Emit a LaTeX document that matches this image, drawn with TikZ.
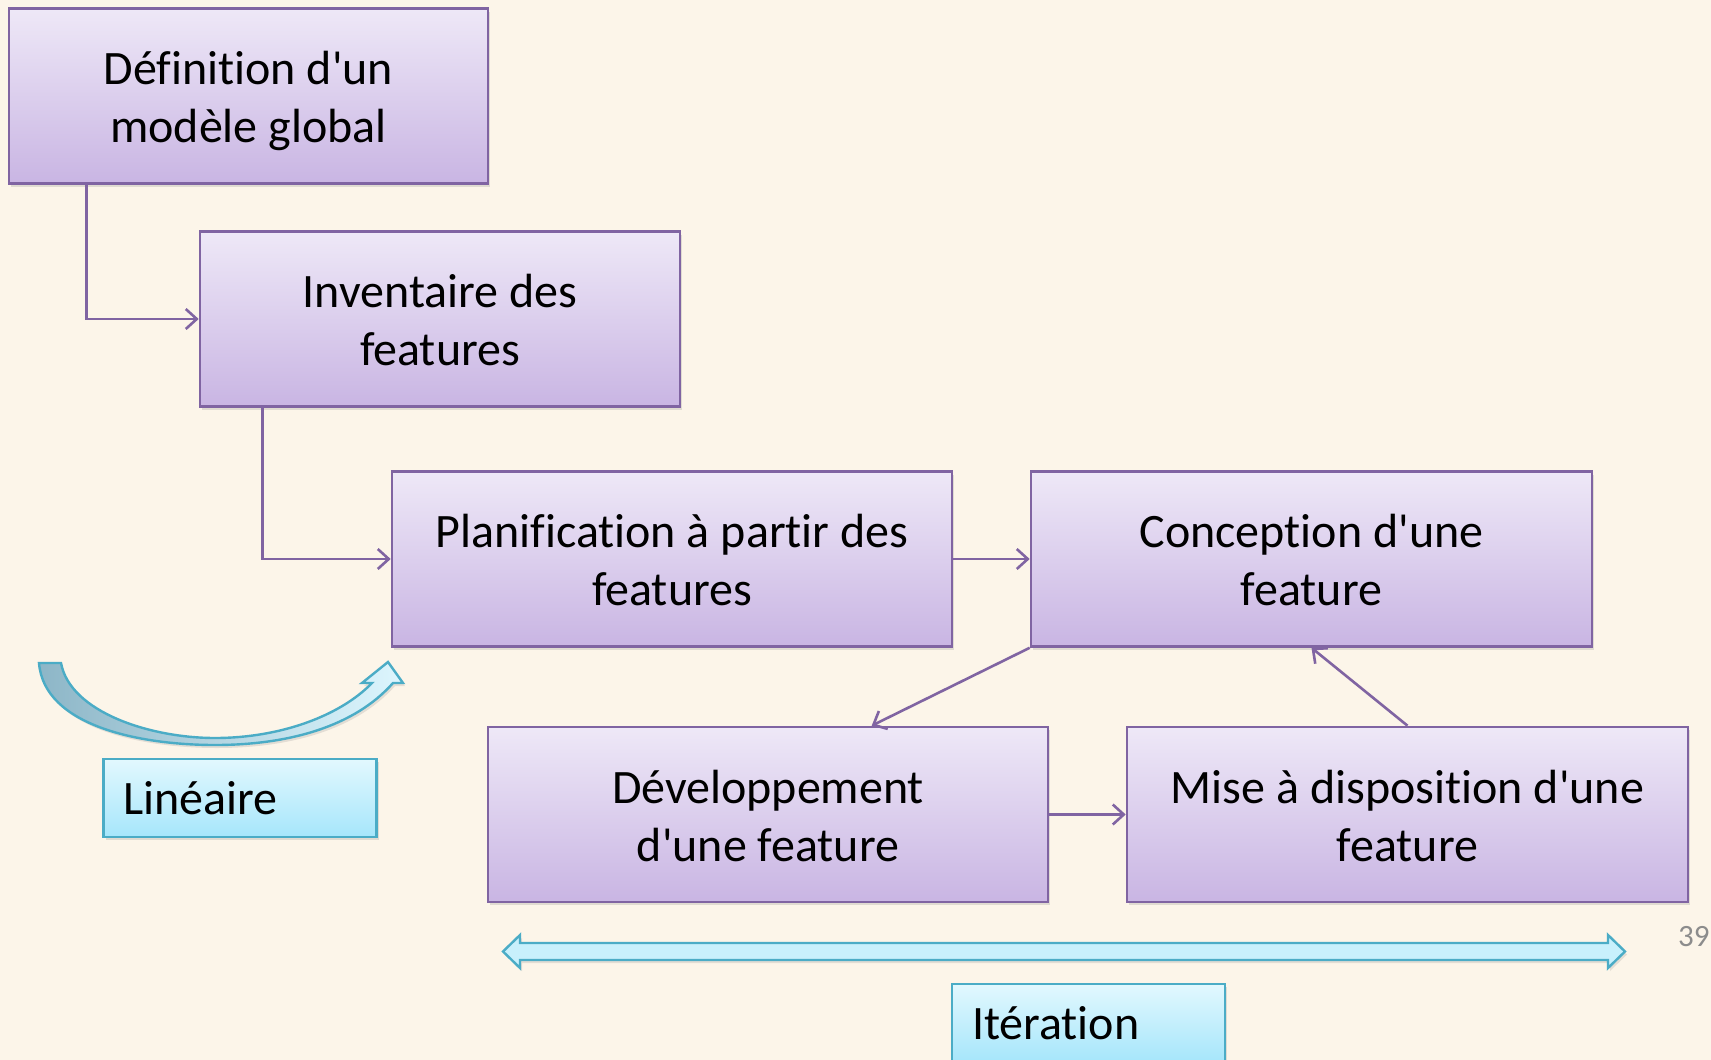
\documentclass[tikz,border=0pt]{standalone}
\usepackage{fontspec}
\setmainfont{Carlito}[Ligatures={TeXOff,CommonOff}]
\usetikzlibrary{arrows.meta,shadows}

\definecolor{paper}{HTML}{FCF5E9}
\definecolor{accpurple}{HTML}{8064A2}
\definecolor{stagetop}{HTML}{EEE8F7}
\definecolor{stagebot}{HTML}{C9B5E3}
\definecolor{acccyan}{HTML}{4BACC6}
\definecolor{tagtop}{HTML}{E2F8FE}
\definecolor{tagbot}{HTML}{A6E6FB}
\definecolor{bartint}{HTML}{C8F0FC}
\definecolor{curvedark}{HTML}{8DB6C7}
\definecolor{curvelight}{HTML}{DDF6FE}
\definecolor{pagegray}{HTML}{8C8C8C}

% two-line stage label with fixed line extents, so all labels sit alike
\newcommand\stagelines[2]{\rule{0pt}{47pt}#1\\#2\rule[-12pt]{0pt}{12pt}}

\tikzset{
  stage/.style={draw=accpurple, line width=2.6pt, top color=stagetop,
    bottom color=stagebot, inner sep=0pt, minimum height=175pt,
    align=center, font=\fontsize{48}{58}\selectfont,
    drop shadow={opacity=0.22, shadow xshift=2pt, shadow yshift=-3pt}},
  link/.style={draw=accpurple, line width=2.6pt,
    -{Straight Barb[length=11pt,width=20pt]}},
  tag/.style={draw=acccyan, line width=2.6pt, top color=tagtop,
    bottom color=tagbot, minimum height=78pt, inner xsep=20pt,
    text width=233pt, align=left, font=\fontsize{48}{58}\selectfont,
    drop shadow={opacity=0.22, shadow xshift=2pt, shadow yshift=-3pt}},
  bigarrow/.style={draw=acccyan, line width=2.4pt, line join=miter,
    drop shadow={opacity=0.2, shadow xshift=2pt, shadow yshift=-3pt}},
}

\begin{document}
\begin{tikzpicture}[x=1pt,y=-1pt]
  % page and background
  \path[use as bounding box] (0,0) rectangle (1711,1060);
  \clip (0,0) rectangle (1711,1060);
  \fill[paper] (0,0) rectangle (1711,1060);

  % process stages
  \node[stage, minimum width=479pt] (def)  at (248.5,96)
    {\stagelines{Définition d'un}{modèle global}};
  \node[stage, minimum width=480pt] (inv)  at (440,319)
    {\stagelines{Inventaire des}{features}};
  \node[stage, minimum width=560pt] (plan) at (672,559)
    {\stagelines{Planification à partir des}{features}};
  \node[stage, minimum width=561pt] (conc) at (1311.5,559)
    {\stagelines{Conception d'une}{feature}};
  \node[stage, minimum width=560pt] (dev)  at (768,814.5)
    {\stagelines{Développement}{d'une feature}};
  \node[stage, minimum width=561pt] (mise) at (1407.5,814.5)
    {\stagelines{Mise à disposition d'une}{feature}};

  % connectors between stages
  \draw[link] ([xshift=79pt]def.south west) |- (inv.west);
  \draw[link] ([xshift=64pt]inv.south west) |- (plan.west);
  \draw[link] (plan.east) -- (conc.west);
  \draw[link] (conc.south west) -- ([xshift=385pt]dev.north west);
  \draw[link] (mise.north) -- (conc.south);
  \draw[link] (dev.east) -- (mise.west);

  % curved arrow of the linear phase
  \path[bigarrow, left color=curvedark, right color=curvelight]
    (39,663) -- (61,663)
    .. controls (70,712) and (150,738) .. (215,738)
    .. controls (280,738) and (340,716) .. (372,683)
    -- (362,683) -- (388,662) -- (403,683) -- (393,683)
    .. controls (355,726) and (290,745) .. (215,745)
    .. controls (140,745) and (44,726) .. (39,663) -- cycle;

  % double arrow of the iteration phase
  \path[bigarrow, fill=bartint]
    (503,951.5) -- (520,935) -- (520,943) -- (1608,943) -- (1608,935)
    -- (1625,951.5) -- (1608,968) -- (1608,960) -- (520,960) -- (520,968) -- cycle;

  % phase labels
  \node[tag] (lin) at (240,798)    {Linéaire};
  \node[tag] (ite) at (1088.5,1023) {Itération};

  % page number
  \node[anchor=base west, inner sep=0pt, text=pagegray,
        font=\fontsize{31}{34}\selectfont] (pg) at (1678,946) {39};
\end{tikzpicture}
\end{document}
